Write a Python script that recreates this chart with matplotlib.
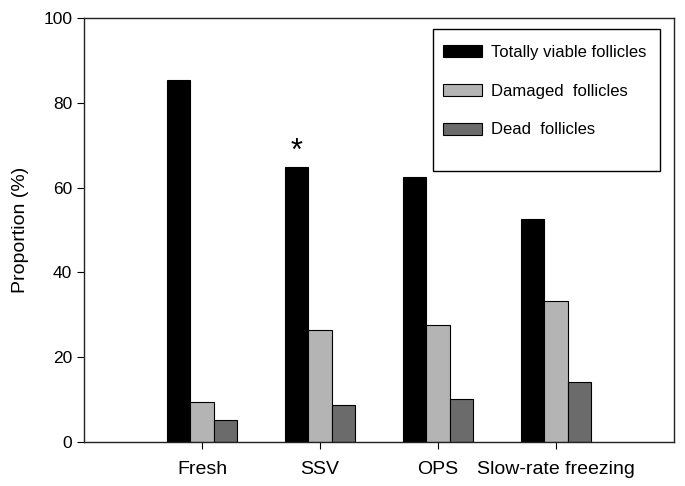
import matplotlib.pyplot as plt
from matplotlib.patches import Rectangle
import numpy as np

plt.rcParams['font.family'] = ['Liberation Sans', 'DejaVu Sans']

groups = ['Fresh', 'SSV', 'OPS', 'Slow-rate freezing']
series = ['Totally viable follicles', 'Damaged  follicles', 'Dead  follicles']
viable = [85.4, 64.9, 62.4, 52.6]
damaged = [9.4, 26.4, 27.7, 33.2]
dead = [5.1, 8.8, 10.1, 14.2]
colors = ['#000000', '#b4b4b4', '#6b6b6b']

fig = plt.figure(figsize=(6.85, 4.86), dpi=100)
ax = fig.add_axes([0.1226, 0.0905, 0.8614, 0.8725])

x = np.arange(len(groups))
w = 0.2
for i, (vals, lab) in enumerate(zip([viable, damaged, dead], series)):
    ax.bar(x + (i - 1) * w, vals, w, color=colors[i], edgecolor='black',
           linewidth=0.8, label=lab)

# significance mark over SSV
ax.text(x[1] - w, viable[1] + 3.5, '*', ha='center', va='center', fontsize=22)

ax.set_xlim(-1, 4)
ax.set_ylim(0, 100)
ax.set_yticks(np.arange(0, 101, 20))
ax.set_xticks(x)
ax.set_xticklabels(groups, fontsize=14)
ax.tick_params(axis='y', labelsize=12.5, length=5, direction='out')
ax.tick_params(axis='x', length=5, direction='out', pad=9)
ax.set_ylabel('Proportion (%)', fontsize=14, labelpad=10)
for s in ax.spines.values():
    s.set_linewidth(1)
    s.set_color('#222222')

# legend box drawn separately (taller than its content in the original)
ax.add_patch(Rectangle((0.5915, 0.639), 0.385, 0.335, transform=ax.transAxes,
                       facecolor='white', edgecolor='black', linewidth=1, zorder=4))
leg = ax.legend(loc='upper left', bbox_to_anchor=(0.608, 0.936), borderaxespad=0,
                fontsize=12, handlelength=2.35, handleheight=0.75, labelspacing=1.42,
                borderpad=0, handletextpad=0.53, frameon=False)
leg.set_zorder(5)

fig.savefig('out.png', dpi=100)
